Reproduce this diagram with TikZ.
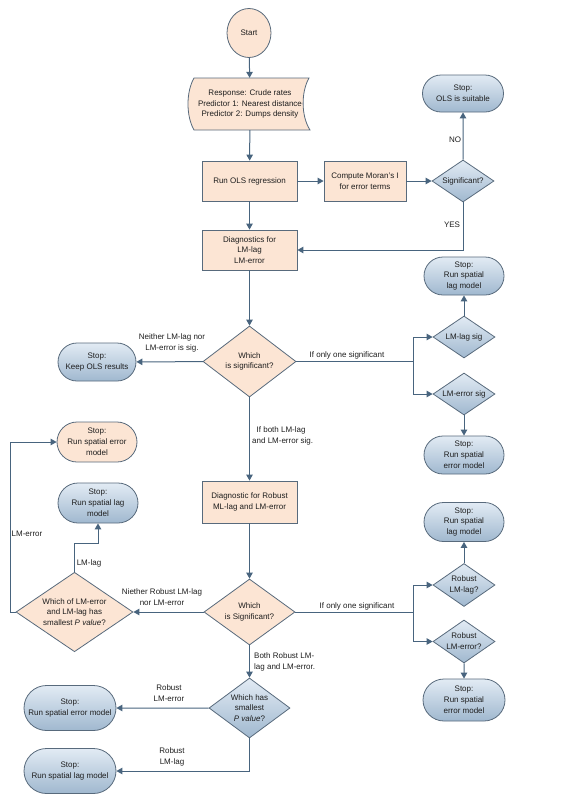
\documentclass[tikz,border=0pt]{standalone}
\usepackage{fontspec}
\setmainfont{Liberation Sans}
\usetikzlibrary{shapes.geometric,shapes.misc,arrows.meta,positioning}
\definecolor{peach}{RGB}{252,229,212}
\definecolor{edgecol}{RGB}{88,106,124}
\definecolor{linecol}{RGB}{72,100,126}
\definecolor{bluetop}{RGB}{226,235,244}
\definecolor{bluebot}{RGB}{160,184,207}
\definecolor{txt}{RGB}{30,30,30}
\tikzset{
 proc/.style={rectangle,draw=edgecol,fill=peach,line width=0.8pt,minimum width=95pt,minimum height=40pt,align=center},
 stopb/.style={rounded rectangle,draw=edgecol,top color=bluetop,bottom color=bluebot,line width=0.8pt,minimum width=82pt,minimum height=38pt,align=center,inner sep=1pt},
 stopo/.style={stopb,top color=peach,bottom color=peach},
 decb/.style={diamond,draw=edgecol,top color=bluetop,bottom color=bluebot,line width=0.8pt,minimum width=62pt,minimum height=42pt,align=center,inner sep=-3pt},
 deco/.style={decb,top color=peach,bottom color=peach},
 flow/.style={draw=linecol,line width=1pt,-{Triangle[length=6pt,width=6.5pt]}},
 lbl/.style={align=center,inner sep=1pt}
}
\begin{document}
\begin{tikzpicture}[x=1pt,y=-1pt,every node/.style={font=\fontsize{8}{10.8}\selectfont,text=txt}]
 \useasboundingbox (0,0) rectangle (588,801);
 % main column
 \node [ellipse,draw=edgecol,fill=peach,line width=0.8pt,minimum width=44pt,minimum height=49pt,inner sep=0pt] (start) at (249,33) {Start};
 \draw [edgecol,fill=peach,line width=0.8pt] (194,78) -- (309,78) .. controls (301,92) and (301,116) .. (310,130) -- (194,130) .. controls (186,116) and (186,92) .. (194,78) -- cycle;
 \node [minimum width=116pt,minimum height=52pt,align=center,inner sep=0pt] (data) at (250,104)
   {Response: Crude rates\\Predictor 1: Nearest distance\\Predictor 2: Dumps density};
 \node [proc] (ols) at (249.5,181) {Run OLS regression};
 \node [proc,minimum width=82pt] (moran) at (365,181) {Compute Moran's I\\for error terms};
 \node [decb] (sig) at (463,181) {Significant?};
 \node [stopb,minimum width=83pt,minimum height=37pt] (stopols) at (463,93.5) {Stop:\\OLS is suitable};
 \node [proc] (diag) at (249.5,250) {Diagnostics for\\LM-lag\\LM-error};
 \node [deco,minimum width=93pt,minimum height=71pt] (which1) at (249.5,361.5) {Which\\is significant?};
 \node [stopb,minimum width=80pt] (keep) at (97,362) {Stop:\\Keep OLS results};
 \node [decb] (lagsig) at (464,337) {LM-lag sig};
 \node [decb] (errsig) at (464,394) {LM-error sig};
 \node [stopb] (stoplag1) at (464,276) {Stop:\\Run spatial\\lag model};
 \node [stopb] (stoperr1) at (464,455) {Stop:\\Run spatial\\error model};
 \node [stopo,minimum height=40pt] (stoperrl) at (97,442) {Stop:\\Run spatial error\\model};
 \node [stopb,minimum height=40pt] (stoplagl) at (98,503) {Stop:\\Run spatial lag\\model};
 \node [proc,minimum height=42pt] (robust) at (249.5,502) {Diagnostic for Robust\\ML-lag and LM-error};
 \node [deco,minimum width=91pt,minimum height=66pt] (which2) at (249.5,612) {Which\\is Significant?};
 \node [deco,minimum width=117pt,minimum height=70pt] (whichof) at (74.5,612) {Which of LM-error\\and LM-lag has\\smallest \textit{P value}?};
 \node [decb,minimum height=43pt] (rlag) at (464,585) {Robust\\LM-lag?};
 \node [decb,minimum height=43pt] (rerr) at (464,641.5) {Robust\\LM-error?};
 \node [stopb,minimum height=39pt] (stoplag2) at (464,522) {Stop:\\Run spatial\\lag model};
 \node [stopb,minimum width=84pt,minimum height=42pt] (stoperr2) at (464,700) {Stop:\\Run spatial\\error model};
 \node [decb,minimum width=81pt,minimum height=60pt] (smallest) at (249.5,708) {Which has\\smallest\\\textit{P value}?};
 \node [stopb,minimum width=94pt,minimum height=45pt] (stoperrb) at (70,708) {Stop:\\Run spatial error model};
 \node [stopb,minimum width=94pt,minimum height=45pt] (stoplagb) at (70,771) {Stop:\\Run spatial lag model};
 % split points
 \coordinate (split1) at (413,361.5);
 \coordinate (split2) at (413,612);
 \coordinate (leftline) at (10,612);
 \coordinate (bend) at (74.5,543);
 % connectors
 \draw [flow] (start) -- (data);
 \draw [flow] (data) -- (ols);
 \draw [flow] (ols) -- (moran);
 \draw [flow] (moran) -- (sig);
 \draw [flow] (sig) -- (stopols);
 \draw [flow] (sig.south) |- (diag.east);
 \draw [flow] (ols) -- (diag);
 \draw [flow] (diag) -- (which1);
 \draw [flow] (which1) -- (keep);
 \draw [draw=linecol,line width=1pt] (which1.east) -- (split1);
 \draw [flow] (split1) |- (lagsig.west);
 \draw [flow] (split1) |- (errsig.west);
 \draw [flow] (lagsig) -- (stoplag1);
 \draw [flow] (errsig) -- (stoperr1);
 \draw [flow] (which1) -- (robust);
 \draw [flow] (robust) -- (which2);
 \draw [flow] (which2) -- (whichof);
 \draw [draw=linecol,line width=1pt] (which2.east) -- (split2);
 \draw [flow] (split2) |- (rlag.west);
 \draw [flow] (split2) |- (rerr.west);
 \draw [flow] (rlag) -- (stoplag2);
 \draw [flow] (rerr) -- (stoperr2);
 \draw [flow] (which2) -- (smallest);
 \draw [flow] (smallest) -- (stoperrb);
 \draw [flow] (smallest.south) |- (stoplagb.east);
 \draw [flow] (whichof.west) -- (leftline) |- (stoperrl.west);
 \draw [flow] (whichof.north) -- (bend) -| (stoplagl.south);
 % labels
 \node [lbl] (no) at (455,140) {NO};
 \node [lbl] (yes) at (452,225) {YES};
 \node [lbl] (neither1) at (172,343) {Neither LM-lag nor\\LM-error is sig.};
 \node [lbl] (only1) at (347,355) {If only one significant};
 \node [lbl,align=left,anchor=west] (both1) at (251,436) {\ \ If both LM-lag\\and LM-error sig.};
 \node [lbl] (neither2) at (162,597) {Niether Robust LM-lag\\nor LM-error};
 \node [lbl] (only2) at (357,606) {If only one significant};
 \node [lbl,align=left,anchor=west] (both2) at (253,662) {Both Robust LM-\\lag and LM-error.};
 \node [lbl] (rerrlbl) at (169,693) {Robust\\LM-error};
 \node [lbl] (rlaglbl) at (172,757) {Robust\\LM-lag};
 \node [lbl] (lmerr) at (27,534) {LM-error};
 \node [lbl] (lmlag) at (89,563) {LM-lag};
\end{tikzpicture}
\end{document}
